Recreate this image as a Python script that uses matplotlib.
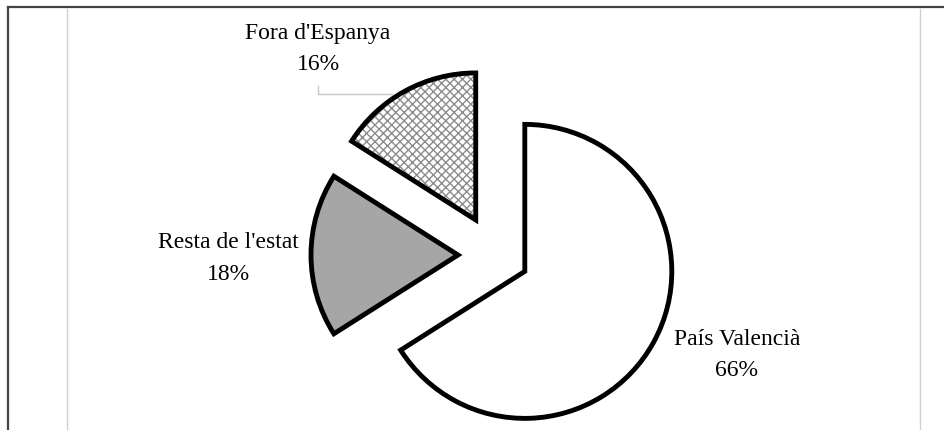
import matplotlib as mpl
mpl.use('Agg')
import matplotlib.pyplot as plt
from matplotlib.patches import Wedge

labels = ["País Valencià", "Resta de l'estat", "Fora d'Espanya"]
shares = [66, 18, 16]
pct_text = ["66%", "18%", "16%"]

plt.rcParams['font.family'] = ['Liberation Serif', 'DejaVu Serif']
plt.rcParams['hatch.linewidth'] = 1.0

W, H = 945, 431
fig = plt.figure(figsize=(W / 100.0, H / 100.0), dpi=100)
ax = fig.add_axes([0, 0, 1, 1])

# pixel-like coordinates, y pointing up; explode is in data units here
wedges, _ = ax.pie(shares, startangle=90, counterclock=False,
                   center=(495, H - 256), radius=147,
                   explode=[34, 37, 40],
                   colors=['white', '#a6a6a6', 'white'],
                   wedgeprops=dict(edgecolor='black', linewidth=3.5))

# hatched slice: gray fine cross hatch, black outline on top
w = wedges[2]
w.set_hatch('xxxx')
w.set_edgecolor('#8c8c8c')
w.set_linewidth(0)
ax.add_patch(Wedge(w.center, w.r, w.theta1, w.theta2, fill=False,
                   edgecolor='black', linewidth=3.5, zorder=w.get_zorder() + 0.1))

ax.set_xlim(0, W)
ax.set_ylim(0, H)
ax.set_aspect('equal')
ax.axis('off')

# labels
label_pos = [(737, 340, 371), (228, 243, 275), (318, 33, 64)]
for name, pct, (x, y1, y2) in zip(labels, pct_text, label_pos):
    ax.text(x, H - y1, name, ha='center', va='center', fontsize=17)
    ax.text(x, H - y2, pct, ha='center', va='center', fontsize=17)

# leader line for Fora d'Espanya
ax.plot([318, 318, 392], [H - 87, H - 95, H - 95], color='#c8c8c8', lw=1, zorder=0)

# frame and light guides
ax.plot([8, 8], [0, H - 8], color='#444444', lw=1.6)
ax.plot([8, W], [H - 8, H - 8], color='#444444', lw=1.6)
ax.plot([67, 67], [0, H - 10], color='#d0d0d0', lw=1)
ax.plot([920, 920], [0, H - 10], color='#d0d0d0', lw=1)

fig.savefig('out.png', dpi=100)
